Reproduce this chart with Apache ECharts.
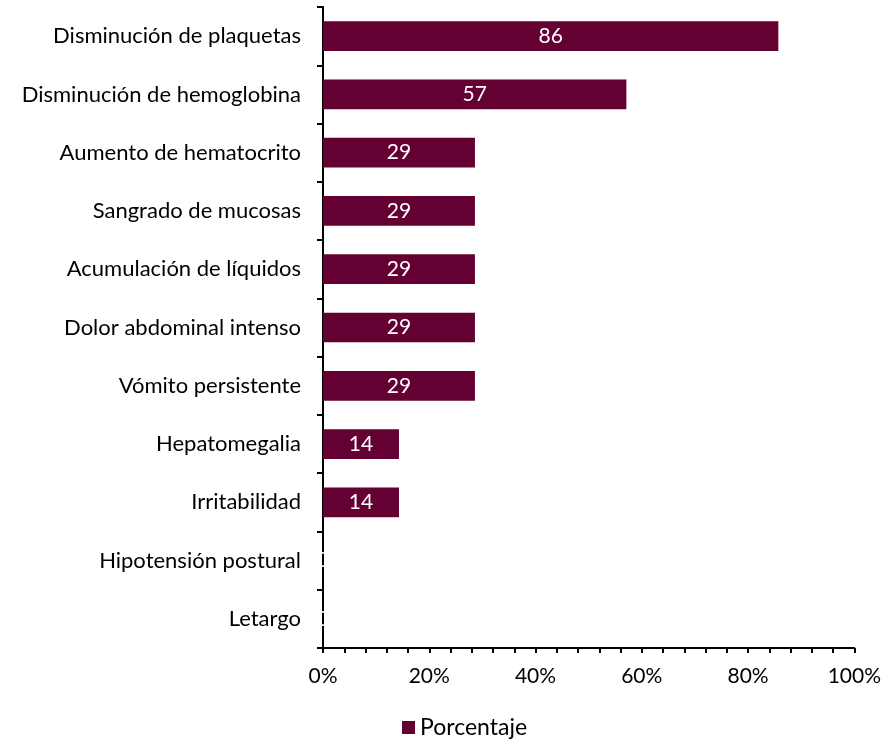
<!DOCTYPE html>
<html><head><meta charset="utf-8">
<script src="https://cdn.jsdelivr.net/npm/echarts@6/dist/echarts.min.js"></script>
<style>html,body{margin:0;padding:0;background:#fff}#c{width:884px;height:745px}</style>
</head><body><div id="c"></div>
<script>
const categories = ["Disminución de plaquetas","Disminución de hemoglobina","Aumento de hematocrito","Sangrado de mucosas","Acumulación de líquidos","Dolor abdominal intenso","Vómito persistente","Hepatomegalia","Irritabilidad","Hipotensión postural","Letargo"];
const values = [85.7, 57.1, 28.6, 28.6, 28.6, 28.6, 28.6, 14.3, 14.3, 0, 0];
const seriesName = "Porcentaje";
const FONT = "Lato";
const chart = echarts.init(document.getElementById('c'));
chart.setOption({
  animation:false,
  textStyle:{fontFamily:FONT},
  grid:{left:323,right:28,top:7,bottom:97,containLabel:false},
  legend:{bottom:1,left:397,itemWidth:13,itemHeight:13,itemGap:5,
    icon:'rect',textStyle:{fontFamily:FONT,fontSize:23,color:'#000'},data:[seriesName]},
  xAxis:{type:'value',min:0,max:100,interval:20,
    axisLine:{show:true,lineStyle:{color:'#000',width:2}},
    axisTick:{show:true,length:5,lineStyle:{color:'#000',width:2}},
    minorTick:{show:true,splitNumber:5,length:5,lineStyle:{color:'#000',width:2}},
    splitLine:{show:false},
    axisLabel:{formatter:'{value}%',fontFamily:FONT,fontSize:21,color:'#000',margin:18}},
  yAxis:{type:'category',inverse:true,data:categories,
    axisLine:{show:true,lineStyle:{color:'#000',width:2}},
    axisTick:{show:true,length:6,lineStyle:{color:'#000',width:2}},
    axisLabel:{fontFamily:FONT,fontSize:22,color:'#000',margin:22}},
  series:[{name:seriesName,type:'bar',data:values,barWidth:'51%',
    itemStyle:{color:'#650033'},
    label:{show:true,position:'inside',color:'#fff',fontFamily:FONT,fontSize:21,
      formatter:p=>Math.round(p.value)}}]
});
</script></body></html>
